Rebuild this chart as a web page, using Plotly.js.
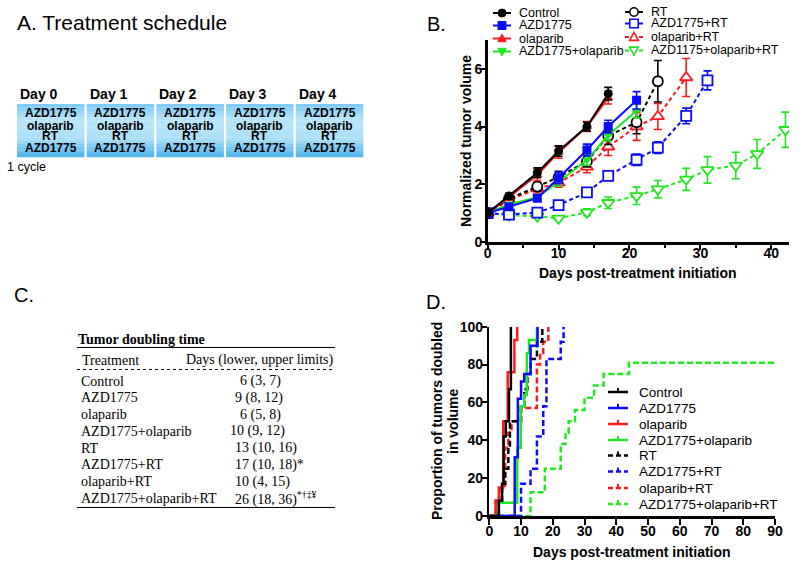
<!DOCTYPE html>
<html><head><meta charset="utf-8">
<script src="https://cdn.plot.ly/plotly-3.0.1.min.js"></script>
<style>html,body{margin:0;padding:0;background:#fff}#chart{width:800px;height:566px}</style>
</head><body><div id="chart"></div>
<script>
// ================= DATA =================
// Panel A: schedule
const scheduleDays = ['Day 0', 'Day 1', 'Day 2', 'Day 3', 'Day 4'];
const scheduleAgents = ['AZD1775', 'olaparib', 'RT', 'AZD1775'];
const scheduleNote = '1 cycle';

// Panel B: normalized tumor volume (mean, error)
const ctrlDays = [0, 3, 7, 10, 14, 17];
const ctrlVol  = [1.00, 1.59, 2.40, 3.15, 4.00, 5.14];
const ctrlErr  = [0.05, 0.10, 0.17, 0.18, 0.15, 0.22];

const azdDays = [0, 3, 7, 10, 14, 17, 21];
const azdVol  = [1.00, 1.22, 1.52, 2.22, 3.19, 4.00, 4.91];
const azdErr  = [0.05, 0.10, 0.10, 0.20, 0.20, 0.22, 0.30];

const olaDays = [0, 3, 7, 10, 14, 17];
const olaVol  = [1.00, 1.55, 2.33, 3.10, 4.00, 5.00];
const olaErr  = [0.05, 0.10, 0.20, 0.20, 0.17, 0.22];

const azdOlaDays = [0, 3, 7, 10, 14, 17, 21];
const azdOlaVol  = [1.00, 1.30, 1.55, 2.08, 2.84, 3.70, 4.55];
const azdOlaErr  = [0.05, 0.08, 0.10, 0.15, 0.18, 0.20, 0.25];

const rtDays = [0, 3, 7, 10, 14, 17, 21, 24];
const rtVol  = [1.00, 1.50, 1.92, 2.25, 2.80, 3.68, 4.15, 5.57];
const rtErr  = [0.05, 0.08, 0.15, 0.20, 0.20, 0.30, 0.40, 0.72];

const azdRtDays = [0, 3, 7, 10, 14, 17, 21, 24, 28, 31];
const azdRtVol  = [1.00, 0.95, 1.02, 1.28, 1.72, 2.29, 2.85, 3.27, 4.37, 5.60];
const azdRtErr  = [0.05, 0.06, 0.07, 0.08, 0.10, 0.12, 0.20, 0.20, 0.27, 0.33];

const olaRtDays = [0, 3, 7, 10, 14, 17, 21, 24, 28];
const olaRtVol  = [1.00, 1.45, 1.85, 2.05, 2.60, 3.30, 4.00, 4.35, 5.70];
const olaRtErr  = [0.05, 0.08, 0.15, 0.15, 0.20, 0.30, 0.48, 0.45, 0.66];

const triDays = [0, 3, 7, 10, 14, 17, 21, 24, 28, 31, 35, 38, 42];
const triVol  = [1.00, 0.93, 0.89, 0.82, 1.03, 1.36, 1.60, 1.83, 2.17, 2.50, 2.65, 3.05, 3.89];
const triErr  = [0.05, 0.05, 0.06, 0.06, 0.12, 0.20, 0.30, 0.30, 0.38, 0.46, 0.46, 0.50, 0.61];

const bNames = ['Control', 'AZD1775', 'olaparib', 'AZD1775+olaparib',
                'RT', 'AZD1775+RT', 'olaparib+RT', 'AZD1175+olaparib+RT'];

// Panel C: table
const tableTitle = 'Tumor doubling time';
const tableHeader = ['Treatment', 'Days (lower, upper limits)'];
const tableTreatments = ['Control', 'AZD1775', 'olaparib', 'AZD1775+olaparib',
                         'RT', 'AZD1775+RT', 'olaparib+RT', 'AZD1775+olaparib+RT'];
const tableDays = ['6 (3, 7)', '9 (8, 12)', '6 (5, 8)', '10 (9, 12)',
                   '13 (10, 16)', '17 (10, 18)*', '10 (4, 15)', '26 (18, 36)<sup>*†‡¥</sup>'];

// Panel D: proportion of tumors doubled (step curves)
const dCtrlX = [0, 3, 4, 4.5, 5.2, 6.2, 6.8];
const dCtrlY = [0, 8, 17, 42, 50, 67, 100];
const dAzdX = [0, 8, 9, 10, 11, 13, 15.2];
const dAzdY = [0, 31, 62, 71, 75, 90, 100];
const dOlaX = [0, 2, 3, 4.4, 5.8, 7.9, 8.8];
const dOlaY = [0, 8, 15, 50, 76, 93, 100];
const dAzdOlaX = [0, 3, 8.8, 9.9, 11, 11.8, 12.5, 15];
const dAzdOlaY = [0, 7, 36, 58, 64, 86, 93, 100];
const dRtX = [0, 3, 4, 5, 6, 6.5, 10, 11, 12, 13, 15, 16.7];
const dRtY = [0, 8, 17, 25, 36, 50, 58, 67, 75, 83, 92, 100];
const dAzdRtX = [0, 10, 13, 15, 17, 18, 22.5, 23.4];
const dAzdRtY = [0, 17, 25, 42, 58, 83, 92, 100];
const dOlaRtX = [0, 2, 4, 5, 6, 7, 10, 15, 16, 17, 18.6];
const dOlaRtY = [0, 8, 15, 36, 44, 50, 57, 80, 86, 92, 100];
const dTriX = [0, 13, 17.5, 22.5, 24, 25, 27, 30, 33, 36, 44, 90];
const dTriY = [0, 12.5, 25, 38, 44, 50, 56, 62.5, 69, 75, 81, 81];

const dNames = ['Control', 'AZD1775', 'olaparib', 'AZD1775+olaparib',
                'RT', 'AZD1775+RT', 'olaparib+RT', 'AZD1775+olaparib+RT'];

// ================= STYLE / LAYOUT =================
const W = 800, H = 566;
const fx = v => v / W;
const fy = v => 1 - v / H;
const BLACK = '#000000', BLUE = '#0a0aff', RED = '#ff1a1a', GREEN = '#1fe81f';
const DASH_B = '4px,3px';
const DASH_D = '6px,3px';
const SANS = 'Liberation Sans, Arial, sans-serif';
const SERIF = 'Liberation Serif, Times New Roman, serif';

const bStyles = [
  {c: BLACK, sym: 'circle', filled: true, dash: 'solid', size: 9},
  {c: BLUE, sym: 'square', filled: true, dash: 'solid', size: 9},
  {c: RED, sym: 'triangle-up', filled: true, dash: 'solid', size: 9},
  {c: GREEN, sym: 'triangle-down', filled: true, dash: 'solid', size: 9},
  {c: BLACK, sym: 'circle', filled: false, dash: DASH_B, size: 10},
  {c: BLUE, sym: 'square', filled: false, dash: DASH_B, size: 10},
  {c: RED, sym: 'triangle-up', filled: false, dash: DASH_B, size: 11},
  {c: GREEN, sym: 'triangle-down', filled: false, dash: DASH_B, size: 11},
];
const bSeries = [
  [ctrlDays, ctrlVol, ctrlErr], [azdDays, azdVol, azdErr], [olaDays, olaVol, olaErr],
  [azdOlaDays, azdOlaVol, azdOlaErr], [rtDays, rtVol, rtErr], [azdRtDays, azdRtVol, azdRtErr],
  [olaRtDays, olaRtVol, olaRtErr], [triDays, triVol, triErr]
];
const bDrawOrder = [7, 6, 5, 4, 3, 1, 2, 0];

const traces = [];
bDrawOrder.forEach(i => {
  const s = bStyles[i], d = bSeries[i];
  traces.push({
    type: 'scatter', mode: 'lines+markers', name: bNames[i],
    x: d[0], y: d[1], xaxis: 'x', yaxis: 'y',
    error_y: {type: 'data', array: d[2], visible: true, color: s.c, thickness: 1.6, width: 4},
    line: {color: s.c, width: 2, dash: s.dash},
    marker: {symbol: s.sym, size: s.size, color: s.filled ? s.c : '#ffffff',
             line: {color: s.c, width: s.filled ? 0 : 1.8}},
    showlegend: false, hoverinfo: 'skip'
  });
});

const dStyles = [
  {c: BLACK, dash: 'solid'}, {c: BLUE, dash: 'solid'}, {c: RED, dash: 'solid'}, {c: GREEN, dash: 'solid'},
  {c: BLACK, dash: DASH_D}, {c: BLUE, dash: DASH_D}, {c: RED, dash: DASH_D}, {c: GREEN, dash: DASH_D}
];
const dSeries = [
  [dCtrlX, dCtrlY], [dAzdX, dAzdY], [dOlaX, dOlaY], [dAzdOlaX, dAzdOlaY],
  [dRtX, dRtY], [dAzdRtX, dAzdRtY], [dOlaRtX, dOlaRtY], [dTriX, dTriY]
];
const dDrawOrder = [7, 5, 6, 4, 3, 1, 2, 0];
dDrawOrder.forEach(i => {
  traces.push({
    type: 'scatter', mode: 'lines', name: dNames[i],
    x: dSeries[i][0], y: dSeries[i][1], xaxis: 'x2', yaxis: 'y2',
    line: {color: dStyles[i].c, width: 2.5, dash: dStyles[i].dash, shape: 'hv'},
    showlegend: false, hoverinfo: 'skip'
  });
});

const shapes = [];
const annotations = [];
function ann(text, x, y, opts) {
  annotations.push(Object.assign({
    text: text, x: fx(x), y: fy(y), xref: 'paper', yref: 'paper', showarrow: false,
    xanchor: 'left', yanchor: 'middle', font: {family: SANS, size: 12, color: '#000'}
  }, opts || {}));
}
function hline(x0, x1, y, color, width, dash) {
  shapes.push({type: 'line', xref: 'paper', yref: 'paper', x0: fx(x0), x1: fx(x1), y0: fy(y), y1: fy(y),
               line: {color: color, width: width, dash: dash || 'solid'}});
}
function vline(x, y0, y1, color, width) {
  shapes.push({type: 'line', xref: 'paper', yref: 'paper', x0: fx(x), x1: fx(x), y0: fy(y0), y1: fy(y1),
               line: {color: color, width: width}});
}
function markerShape(sym, cx, cy, r, color, filled) {
  const base = {xref: 'paper', yref: 'paper', line: {color: color, width: filled ? 1 : 1.6},
                fillcolor: filled ? color : '#ffffff'};
  if (sym === 'circle') {
    shapes.push(Object.assign({type: 'circle', x0: fx(cx - r), x1: fx(cx + r), y0: fy(cy + r), y1: fy(cy - r)}, base));
  } else if (sym === 'square') {
    shapes.push(Object.assign({type: 'rect', x0: fx(cx - r), x1: fx(cx + r), y0: fy(cy + r), y1: fy(cy - r)}, base));
  } else {
    const up = sym === 'triangle-up';
    const tip = up ? cy - r * 1.1 : cy + r * 1.1;
    const b = up ? cy + r * 0.8 : cy - r * 0.8;
    const p = `M ${fx(cx)},${fy(tip)} L ${fx(cx + r * 1.05)},${fy(b)} L ${fx(cx - r * 1.05)},${fy(b)} Z`;
    shapes.push(Object.assign({type: 'path', path: p}, base));
  }
}

// ---- Panel A ----
ann('A. Treatment schedule', 15, 22, {font: {family: SANS, size: 21, color: '#000'}});
const boxTop = 104, boxBot = 157, boxW = 67.5;
const gradStops = [[0, [120, 200, 244]], [0.3, [185, 229, 251]], [0.65, [172, 223, 249]], [1, [78, 178, 234]]];
function gradColor(t) {
  for (let k = 0; k < gradStops.length - 1; k++) {
    const [t0, c0] = gradStops[k], [t1, c1] = gradStops[k + 1];
    if (t >= t0 && t <= t1) {
      const u = (t - t0) / (t1 - t0);
      return 'rgb(' + c0.map((v, j) => Math.round(v + (c1[j] - v) * u)).join(',') + ')';
    }
  }
  return 'rgb(78,178,234)';
}
const nBands = 16;
scheduleDays.forEach((dayLabel, i) => {
  const left = 17 + i * 69.7;
  for (let b = 0; b < nBands; b++) {
    const y0 = boxTop + (boxBot - boxTop) * b / nBands;
    const y1 = boxTop + (boxBot - boxTop) * (b + 1) / nBands;
    shapes.push({type: 'rect', xref: 'paper', yref: 'paper', layer: 'below',
                 x0: fx(left), x1: fx(left + boxW), y0: fy(y1 + 0.3), y1: fy(y0),
                 fillcolor: gradColor((b + 0.5) / nBands), line: {width: 0}});
  }
  ann(dayLabel, left + 1, 94, {font: {family: SANS, size: 14, color: '#000', weight: 'bold'}});
  const rowsY = [113, 125.5, 136.5, 148];
  scheduleAgents.forEach((ag, k) => {
    ann(ag, left + boxW / 2, rowsY[k], {xanchor: 'center', borderpad: 0,
        font: {family: SANS, size: 12, color: '#000', weight: 'bold'}});
  });
});
ann(scheduleNote, 5, 167, {font: {family: SANS, size: 12.5, color: '#000'}});

// ---- Panel B labels & legend ----
ann('B.', 425, 24, {font: {family: SANS, size: 20, color: '#000'}});
ann('Days post-treatment initiation', 638, 273, {xanchor: 'center',
    font: {family: SANS, size: 14, color: '#000', weight: 'bold'}});
ann('Normalized tumor volume', 466, 141, {xanchor: 'center', textangle: -90,
    font: {family: SANS, size: 14, color: '#000', weight: 'bold'}});
const bLegRowsL = [13, 25.5, 38.5, 51.5];
const bLegRowsR = [12, 23.5, 37, 50.5];
bNames.forEach((nm, i) => {
  const s = bStyles[i];
  const right = i >= 4;
  const y = right ? bLegRowsR[i - 4] : bLegRowsL[i];
  const x0 = right ? 625 : 493, x1 = right ? 643 : 511, cx = (x0 + x1) / 2;
  hline(x0, x1, y, s.c, 2, s.dash);
  markerShape(s.sym, cx, y, s.filled ? 4 : 4.2, s.c, s.filled);
  ann(nm, right ? 649 : 517, y, {font: {family: SANS, size: 12.5, color: '#000'}});
});

// ---- Panel C ----
ann('C.', 12, 295, {font: {family: SANS, size: 20, color: '#000'}});
ann('<b>' + tableTitle + '</b>', 76, 339, {font: {family: SERIF, size: 14, color: '#000'}});
hline(77, 335, 347.5, '#000', 1.2);
ann(tableHeader[0], 80, 360, {font: {family: SERIF, size: 14, color: '#000'}});
ann(tableHeader[1], 336, 360, {xanchor: 'right', font: {family: SERIF, size: 14, color: '#000'}});
hline(77, 335, 369.5, '#000', 1, 'dot');
const valueLeft = [239, 234, 239, 229, 234, 234, 234, 234];
tableTreatments.forEach((t, i) => {
  const y = 381 + i * 16.75;
  ann(t, 80, y, {font: {family: SERIF, size: 14, color: '#000'}, borderpad: 0});
  ann(tableDays[i], valueLeft[i], y, {font: {family: SERIF, size: 14, color: '#000'}, borderpad: 0});
});
hline(77, 335, 507.5, '#000', 1.2);

// ---- Panel D labels & legend ----
ann('D.', 424, 302, {font: {family: SANS, size: 20, color: '#000'}});
ann('Days post-treatment initiation', 632, 552, {xanchor: 'center',
    font: {family: SANS, size: 14, color: '#000', weight: 'bold'}});
ann('Proportion of tumors doubled', 437, 421, {xanchor: 'center', textangle: -90,
    font: {family: SANS, size: 14, color: '#000', weight: 'bold'}});
ann('in volume', 453, 421, {xanchor: 'center', textangle: -90,
    font: {family: SANS, size: 14, color: '#000', weight: 'bold'}});
const dLegRows = [392, 408, 424, 440, 455.5, 471.5, 488, 504];
dNames.forEach((nm, i) => {
  const y = dLegRows[i];
  hline(608, 628, y, dStyles[i].c, 2.5, dStyles[i].dash === 'solid' ? 'solid' : '5px,3px');
  vline(618, y, y - 4, dStyles[i].c, 2);
  ann(nm, 638, y, {font: {family: SANS, size: 13.5, color: '#000'}, borderpad: 0});
});

const tickFont = {family: SANS, size: 14, color: '#000', weight: 'bold'};
const axBase = {showline: true, linecolor: '#000', showgrid: false, zeroline: false,
                ticks: 'outside', tickcolor: '#000', tickfont: tickFont, fixedrange: true};

const layout = {
  width: W, height: H, margin: {l: 0, r: 0, t: 0, b: 0},
  paper_bgcolor: '#fff', plot_bgcolor: 'rgba(0,0,0,0)', showlegend: false,
  xaxis: Object.assign({}, axBase, {domain: [fx(487.7), fx(789)], range: [0, 42.5], anchor: 'y',
         linewidth: 2.5, ticklen: 5, tickwidth: 2, tickmode: 'linear', tick0: 0, dtick: 10,
         ticklabelstandoff: -8,
         minor: {ticks: 'outside', ticklen: 3, tickwidth: 2, tickcolor: '#000', dtick: 5, tick0: 0}}),
  yaxis: Object.assign({}, axBase, {domain: [fy(242), fy(40)], range: [0, 7], anchor: 'x',
         linewidth: 2.5, ticklen: 5, tickwidth: 2, tickmode: 'linear', tick0: 0, dtick: 2,
         ticklabelstandoff: -5}),
  xaxis2: Object.assign({}, axBase, {domain: [fx(489.3), fx(775)], range: [0, 90], anchor: 'y2',
         linewidth: 2.5, ticklen: 6, tickwidth: 2, tickmode: 'linear', tick0: 0, dtick: 10,
         ticklabelstandoff: -5}),
  yaxis2: Object.assign({}, axBase, {domain: [fy(516), fy(326.7)], range: [0, 100], anchor: 'x2',
         linewidth: 2.5, ticklen: 6, tickwidth: 2, tickmode: 'linear', tick0: 0, dtick: 20,
         ticklabelstandoff: -5}),
  shapes: shapes, annotations: annotations
};

Plotly.newPlot('chart', traces, layout, {displayModeBar: false, staticPlot: true});
</script></body></html>
